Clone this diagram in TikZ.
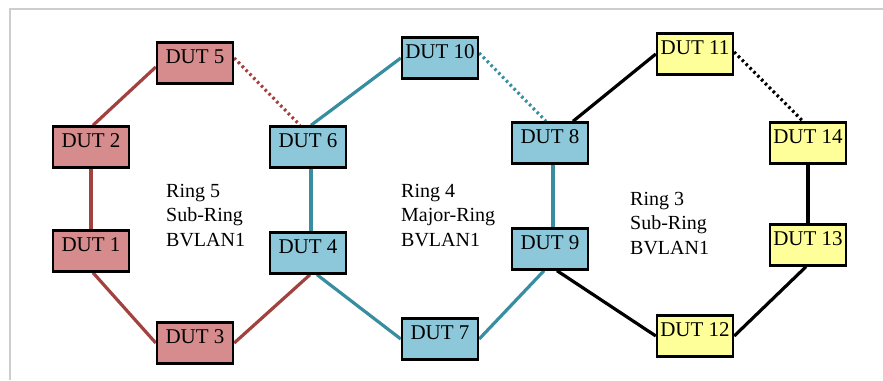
\documentclass[tikz,border=0pt]{standalone}
\usepackage{fontspec}
\setmainfont{Liberation Serif}
\definecolor{redfill}{RGB}{214,140,140}
\definecolor{redline}{RGB}{162,66,62}
\definecolor{bluefill}{RGB}{140,200,218}
\definecolor{blueline}{RGB}{56,142,160}
\definecolor{yellowfill}{RGB}{255,255,153}
\definecolor{framegray}{RGB}{205,205,205}
\pgfdeclarelayer{links}
\pgfsetlayers{links,main}
\begin{document}
\begin{tikzpicture}[x=1pt,y=-1pt,
  dut/.style={draw=black, line width=2.4pt, rectangle, inner sep=0pt,
    minimum width=76pt, minimum height=41pt, text height=14pt, text depth=14pt,
    font=\fontsize{21}{24}\selectfont},
  redbox/.style={dut, fill=redfill},
  bluebox/.style={dut, fill=bluefill},
  yellowbox/.style={dut, fill=yellowfill},
  link/.style={line width=3.2pt},
  dotlink/.style={line width=3.2pt, dash pattern=on 2.5pt off 3pt},
  ringlabel/.style={inner sep=0pt, align=left, anchor=north west,
    font=\fontsize{20}{24.5}\selectfont}
]
\useasboundingbox (0,0) rectangle (883,380);
\draw[framegray, line width=1.5pt] (10,380) -- (10,9) -- (883,9);

\node[redbox] (d5) at (195,63) {DUT 5};
\node[bluebox] (d10) at (440,58) {DUT 10};
\node[yellowbox] (d11) at (695,54) {DUT 11};
\node[redbox] (d2) at (91,147) {DUT 2};
\node[bluebox] (d6) at (308,147) {DUT 6};
\node[bluebox] (d8) at (550,143) {DUT 8};
\node[yellowbox] (d14) at (808,143) {DUT 14};
\node[redbox] (d1) at (91,251) {DUT 1};
\node[bluebox] (d4) at (308,253) {DUT 4};
\node[bluebox] (d9) at (550,249) {DUT 9};
\node[yellowbox] (d13) at (808,245) {DUT 13};
\node[redbox] (d3) at (195,343) {DUT 3};
\node[bluebox] (d7) at (440,339) {DUT 7};
\node[yellowbox] (d12) at (695,336) {DUT 12};

\begin{pgfonlayer}{links}
% red ring
\draw[link, redline] ([yshift=-4pt]d5.west) -- ([xshift=2pt]d2.north);
\draw[dotlink, redline] ([yshift=5pt]d5.east) -- ([xshift=-8pt]d6.north);
\draw[link, redline] (d2.south) -- (d1.north);
\draw[link, redline] ([xshift=2pt]d1.south) -- (d3.west);
\draw[link, redline] (d3.east) -- ([xshift=2pt]d4.south);
% blue ring
\draw[link, blueline] (d10.west) -- ([xshift=3pt]d6.north);
\draw[dotlink, blueline] ([yshift=5pt]d10.east) -- ([xshift=-4pt]d8.north);
\draw[link, blueline] ([xshift=3pt]d6.south) -- ([xshift=3pt]d4.north);
\draw[link, blueline] ([xshift=9pt]d4.south) -- (d7.west);
\draw[link, blueline] (d7.east) -- ([xshift=-6pt]d9.south);
\draw[link, blueline] ([xshift=3pt]d8.south) -- ([xshift=3pt]d9.north);
% black ring
\draw[link, black] (d11.west) -- ([xshift=23pt]d8.north);
\draw[dotlink, black] ([yshift=2pt]d11.east) -- ([xshift=-5pt]d14.north);
\draw[link, black] (d14.south) -- (d13.north);
\draw[link, black] ([xshift=7pt]d9.south) -- (d12.west);
\draw[link, black] (d12.east) -- ([xshift=-2pt]d13.south);
\end{pgfonlayer}

\node[ringlabel] (r5) at (166,184) {Ring 5\\Sub-Ring\\BVLAN1};
\node[ringlabel] (r4) at (401,184) {Ring 4\\Major-Ring\\BVLAN1};
\node[ringlabel] (r3) at (630,192) {Ring 3\\Sub-Ring\\BVLAN1};
\end{tikzpicture}
\end{document}
